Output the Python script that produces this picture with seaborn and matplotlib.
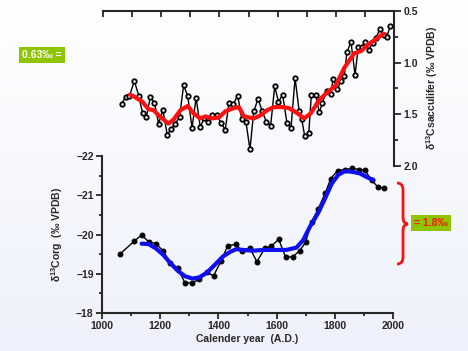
import numpy as np
import pandas as pd
import matplotlib
matplotlib.use("Agg")
import matplotlib.pyplot as plt
import seaborn as sns
from matplotlib.path import Path
from matplotlib.patches import PathPatch
from matplotlib.ticker import MultipleLocator, FormatStrFormatter

# ---- data ----
# foraminifera (G. sacculifer) d13C, raw and smoothed
years_sacc = [1064, 1078, 1091, 1108, 1123, 1136, 1149, 1163, 1177, 1191,
              1206, 1221, 1234, 1248, 1263, 1277, 1291, 1306, 1320, 1334,
              1348, 1362, 1376, 1391, 1405, 1420, 1433, 1448, 1463, 1477,
              1491, 1505, 1518, 1533, 1547, 1561, 1576, 1590, 1603, 1617,
              1632, 1646, 1660, 1674, 1683, 1693, 1707, 1716, 1731, 1743,
              1754, 1768, 1782, 1791, 1805, 1817, 1829, 1838, 1852, 1866,
              1877, 1890, 1901, 1913, 1926, 1938, 1951, 1964, 1975, 1987]
d13c_sacc = [1.40, 1.33, 1.32, 1.18, 1.32, 1.49, 1.53, 1.33, 1.39, 1.59,
             1.46, 1.70, 1.64, 1.59, 1.53, 1.22, 1.32, 1.63, 1.34, 1.62,
             1.54, 1.57, 1.51, 1.51, 1.58, 1.65, 1.39, 1.40, 1.32, 1.55,
             1.57, 1.84, 1.47, 1.35, 1.47, 1.57, 1.61, 1.23, 1.38, 1.31,
             1.58, 1.63, 1.15, 1.47, 1.55, 1.71, 1.68, 1.31, 1.31, 1.48,
             1.39, 1.27, 1.30, 1.16, 1.26, 1.18, 1.13, 0.90, 0.80, 1.12,
             0.85, 0.85, 0.80, 0.88, 0.81, 0.76, 0.68, 0.73, 0.75, 0.65]
years_sacc_smooth = [1093, 1108, 1136, 1156, 1174, 1191, 1208, 1225, 1243, 1266,
                     1291, 1311, 1334, 1352, 1375, 1398, 1421, 1449, 1467, 1484,
                     1518, 1541, 1564, 1587, 1616, 1639, 1668, 1691, 1714, 1743,
                     1766, 1800, 1829, 1863, 1886, 1909, 1944, 1964]
d13c_sacc_smooth = [1.31, 1.33, 1.38, 1.45, 1.46, 1.51, 1.55, 1.59, 1.55, 1.46,
                    1.42, 1.49, 1.54, 1.52, 1.54, 1.53, 1.47, 1.44, 1.43, 1.52,
                    1.54, 1.51, 1.46, 1.43, 1.43, 1.44, 1.49, 1.54, 1.49, 1.36,
                    1.30, 1.22, 1.05, 0.91, 0.89, 0.83, 0.76, 0.72]

# organic carbon d13C, raw and smoothed
years_org = [1061, 1110, 1136, 1160, 1185, 1211, 1234, 1260, 1285, 1309,
             1334, 1360, 1383, 1409, 1432, 1459, 1482, 1507, 1532, 1559,
             1582, 1607, 1631, 1656, 1679, 1699, 1720, 1743, 1766, 1786,
             1809, 1834, 1860, 1883, 1903, 1926, 1947, 1970]
d13c_org = [-19.50, -19.83, -19.99, -19.82, -19.77, -19.58, -19.27, -19.15, -18.77, -18.77,
            -18.86, -19.04, -18.95, -19.33, -19.72, -19.75, -19.58, -19.67, -19.31, -19.65,
            -19.71, -19.88, -19.42, -19.44, -19.59, -19.80, -20.33, -20.66, -21.05, -21.43,
            -21.63, -21.66, -21.69, -21.66, -21.64, -21.39, -21.22, -21.18]
years_org_smooth = [1136, 1160, 1185, 1211, 1234, 1260, 1285, 1311, 1334, 1360,
                    1386, 1415, 1440, 1461, 1484, 1518, 1553, 1587, 1633, 1668,
                    1691, 1714, 1743, 1766, 1789, 1811, 1834, 1860, 1886, 1909, 1932]
d13c_org_smooth = [-19.77, -19.76, -19.65, -19.48, -19.28, -19.08, -18.94, -18.88, -18.91, -19.03,
                   -19.22, -19.44, -19.56, -19.63, -19.61, -19.59, -19.61, -19.61, -19.61, -19.67,
                   -19.86, -20.20, -20.56, -20.92, -21.30, -21.52, -21.62, -21.60, -21.56, -21.47, -21.39]

# ---- style ----
sns.set_style("ticks")
plt.rcParams['font.family'] = ['Liberation Sans', 'DejaVu Sans']
plt.rcParams['font.weight'] = 'bold'
plt.rcParams['axes.labelweight'] = 'bold'
plt.rcParams['mathtext.fontset'] = 'custom'
plt.rcParams['mathtext.rm'] = 'Liberation Sans:bold'
plt.rcParams['mathtext.it'] = 'Liberation Sans:bold'
plt.rcParams['axes.linewidth'] = 1.5

fig = plt.figure(figsize=(4.68, 3.51), dpi=100)

# soft white-to-blue background
bg = fig.add_axes([0, 0, 1, 1], zorder=-10)
grad = np.linspace(0, 1, 256).reshape(-1, 1)
bg.imshow(grad, aspect='auto', extent=[0, 1, 0, 1], origin='upper',
          cmap=matplotlib.colors.LinearSegmentedColormap.from_list('bg', ['#ffffff', '#eef1fb']))
bg.set_axis_off()

# ---- top panel: sacculifer ----
ax_top = fig.add_axes([0.220, 0.527, 0.622, 0.442])
ax_top.patch.set_alpha(0)
sns.lineplot(x=years_sacc, y=d13c_sacc, ax=ax_top, color='black', lw=1,
             marker='o', markersize=3.2, markerfacecolor='white',
             markeredgecolor='black', markeredgewidth=1.3)
sns.lineplot(x=years_sacc_smooth, y=d13c_sacc_smooth, ax=ax_top, color='#ff1010', lw=3)
ax_top.set_xlim(1000, 2000)
ax_top.set_ylim(2.0, 0.5)
ax_top.spines['left'].set_visible(False)
ax_top.spines['bottom'].set_visible(False)
ax_top.spines['top'].set_visible(True)
ax_top.spines['right'].set_visible(True)
ax_top.xaxis.set_ticks_position('top')
ax_top.xaxis.set_major_locator(MultipleLocator(100))
ax_top.tick_params(axis='x', direction='in', length=4, width=1.3, labeltop=False, labelbottom=False)
ax_top.yaxis.set_ticks_position('right')
ax_top.yaxis.set_label_position('right')
ax_top.yaxis.set_major_locator(MultipleLocator(0.5))
ax_top.yaxis.set_minor_locator(MultipleLocator(0.25))
ax_top.yaxis.set_major_formatter(FormatStrFormatter('%.1f'))
ax_top.tick_params(axis='y', which='major', direction='out', length=5, width=1.3, labelsize=7.5, pad=2)
ax_top.tick_params(axis='y', which='minor', direction='out', length=3, width=1.3)
ax_top.set_xlabel('')
ax_top.set_ylabel(r'$\delta$$^{13}$Csacculifer (‰ VPDB)', fontsize=7.5, labelpad=4)

# ---- bottom panel: organic carbon ----
ax_bot = fig.add_axes([0.218, 0.108, 0.622, 0.447])
ax_bot.patch.set_alpha(0)
sns.lineplot(x=years_org, y=d13c_org, ax=ax_bot, color='black', lw=1,
             marker='o', markersize=3.5, markerfacecolor='black', markeredgecolor='black')
sns.lineplot(x=years_org_smooth, y=d13c_org_smooth, ax=ax_bot, color='#1010ee', lw=3)
ax_bot.set_xlim(1000, 2000)
ax_bot.set_ylim(-18, -22)
sns.despine(ax=ax_bot)
ax_bot.xaxis.set_major_locator(MultipleLocator(200))
ax_bot.xaxis.set_minor_locator(MultipleLocator(100))
ax_bot.yaxis.set_major_locator(MultipleLocator(1))
ax_bot.yaxis.set_minor_locator(MultipleLocator(0.5))
ax_bot.tick_params(which='major', direction='out', length=4, width=1.3, labelsize=7.5, pad=2)
ax_bot.tick_params(which='minor', direction='out', length=2.5, width=1.3)
ax_bot.set_xlabel('Calender year  (A.D.)', fontsize=7.5, labelpad=2)
ax_bot.set_ylabel(r'$\delta$$^{13}$Corg  (‰ VPDB)', fontsize=7.5, labelpad=8)

# ---- annotations ----
green = '#8fc400'
fig.text(42 / 468, 1 - 55 / 351, '0.63‰ =', color='white', fontsize=7.5, fontweight='bold',
         ha='center', va='center',
         bbox=dict(boxstyle='square,pad=0.3', facecolor=green, edgecolor='none'))
fig.text(431 / 468, 1 - 223 / 351, '= 1.8‰', color='#ff1010', fontsize=7.5, fontweight='bold',
         ha='center', va='center',
         bbox=dict(boxstyle='square,pad=0.3', facecolor=green, edgecolor='none'))

# red curly brace
pts = [(397, 183), (403, 183), (403, 190), (403, 217), (403, 224), (408, 224),
       (403, 224), (403, 231), (403, 257), (403, 264), (397, 264)]
codes = [Path.MOVETO, Path.CURVE3, Path.CURVE3, Path.LINETO, Path.CURVE3, Path.CURVE3,
         Path.CURVE3, Path.CURVE3, Path.LINETO, Path.CURVE3, Path.CURVE3]
brace = Path([(x / 468, 1 - y / 351) for x, y in pts], codes)
fig.patches.append(PathPatch(brace, transform=fig.transFigure, facecolor='none',
                             edgecolor='#ff1010', lw=2))

fig.savefig('out.png', dpi=100)
